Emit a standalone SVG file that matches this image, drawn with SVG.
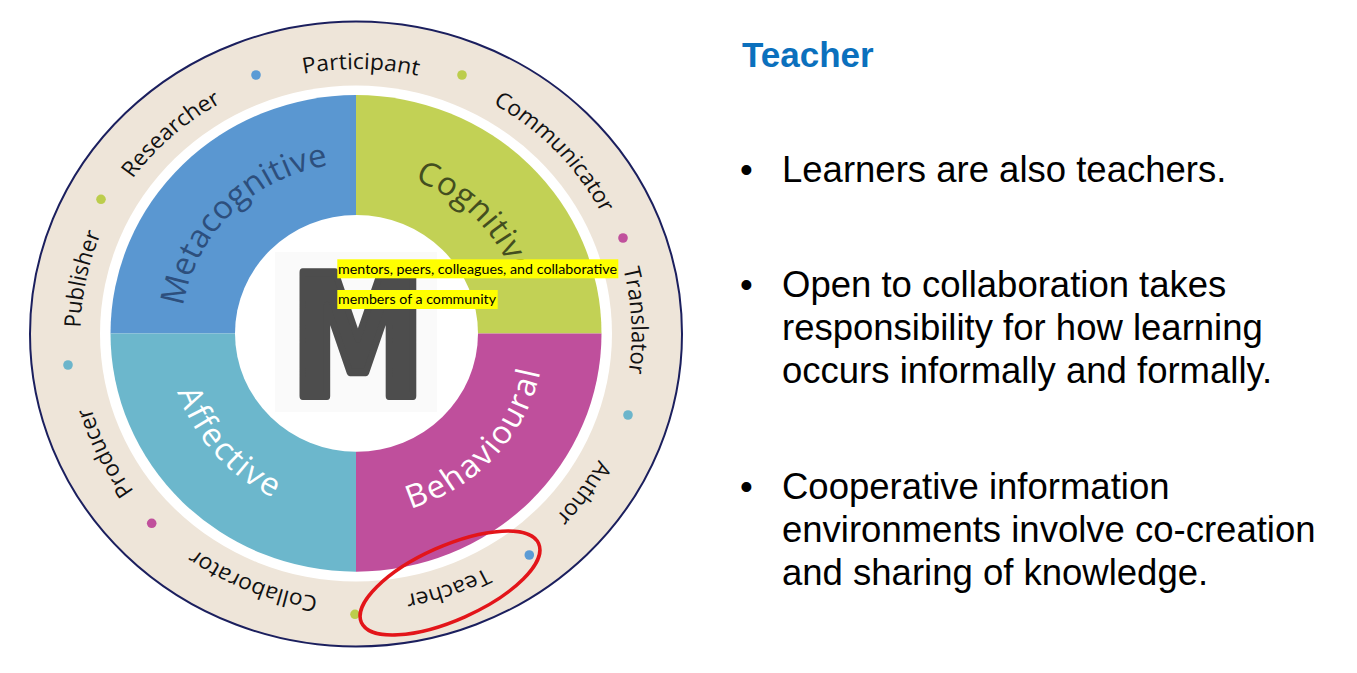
<svg xmlns="http://www.w3.org/2000/svg" xmlns:xlink="http://www.w3.org/1999/xlink" width="1357" height="673" viewBox="0 0 1357 673">
  <style>
    .ring { font-family: "Open Sans", "DejaVu Sans", sans-serif; font-size: 22px; fill: #111; }
    .quad { font-family: "Open Sans", "DejaVu Sans", sans-serif; font-size: 32px; }
    .hl { fill: #ffff00; }
    .hltxt { font-family: Lato, "Liberation Sans", sans-serif; font-size: 13px; fill: #000; }
    .title { font-family: "Liberation Sans", Arial, sans-serif; font-size: 35px; font-weight: bold; fill: #0b70bd; }
    .body { font-family: "Liberation Sans", Arial, sans-serif; font-size: 36.5px; fill: #000; }
    .dot { stroke: none; }
  </style>
  <defs>
    <path id="ringPath" d="M0,265 A265,265 0 1 1 0,-265 A265,265 0 1 1 0,265"/>
    <path id="metaPath" d="M-170,0 A170,170 0 0 1 0,-170"/>
    <path id="cogPath" d="M0,-163 A163,163 0 0 1 163,0"/>
    <path id="affPath" d="M-183,0 A183,183 0 0 0 0,183"/>
    <path id="behPath" d="M0,183 A183,183 0 0 0 183,0"/>
  </defs>
  <rect x="0" y="0" width="1357" height="673" fill="#ffffff"/>

  <g id="wheel">
    <ellipse cx="356" cy="334" rx="326" ry="312.5" fill="#eee5d9" stroke="#1b1f5e" stroke-width="2"/>
    <ellipse cx="356" cy="333.6" rx="256" ry="248" fill="#ffffff"/>
  </g>

  <g id="quadrants">
    <path id="q-meta" d="M356,333.4 L110.5,333.4 A245.5,238.3 0 0 1 356,95.1 Z" fill="#5a97d1"/>
    <path id="q-cog" d="M356,333.4 L356,95.1 A245.5,238.3 0 0 1 601.5,333.4 Z" fill="#c2d155"/>
    <path id="q-beh" d="M356,333.4 L601.5,333.4 A245.5,238.3 0 0 1 356,571.7 Z" fill="#bf4f9c"/>
    <path id="q-aff" d="M356,333.4 L356,571.7 A245.5,238.3 0 0 1 110.5,333.4 Z" fill="#6cb7cc"/>
    <g transform="translate(356,333.4) scale(1.03,1)">
      <text class="quad" fill="#2d4f7d"><textPath xlink:href="#metaPath" href="#metaPath" startOffset="50.1%" text-anchor="middle" letter-spacing="0.3">Metacognitive</textPath></text>
      <text class="quad" fill="#434e1f"><textPath xlink:href="#cogPath" href="#cogPath" startOffset="50.4%" text-anchor="middle" letter-spacing="0.5">Cognitive</textPath></text>
      <text class="quad" fill="#ffffff"><textPath xlink:href="#affPath" href="#affPath" startOffset="46.2%" text-anchor="middle" letter-spacing="2">Affective</textPath></text>
      <text class="quad" fill="#ffffff"><textPath xlink:href="#behPath" href="#behPath" startOffset="52.9%" text-anchor="middle" letter-spacing="1.7">Behavioural</textPath></text>
    </g>
  </g>

  <g id="center">
    <ellipse cx="356.5" cy="333.4" rx="121.5" ry="118.3" fill="#ffffff"/>
    <rect x="275" y="252" width="162" height="160" fill="#fafafa"/>
    <text x="358" y="396" text-anchor="middle" transform="translate(358,0) scale(0.8,1) translate(-358,0)" font-family="DejaVu Sans, sans-serif" font-weight="bold" font-size="170" fill="#4d4d4d" stroke="#4d4d4d" stroke-width="8" stroke-linejoin="round">M</text>
  </g>

  <g id="ring-labels" transform="translate(356,334) scale(1.04,1)">
    <text class="ring"><textPath xlink:href="#ringPath" href="#ringPath" startOffset="6.06%" text-anchor="middle">Collaborator</textPath></text>
    <text class="ring"><textPath xlink:href="#ringPath" href="#ringPath" startOffset="17.72%" text-anchor="middle">Producer</textPath></text>
    <text class="ring"><textPath xlink:href="#ringPath" href="#ringPath" startOffset="28.28%" text-anchor="middle">Publisher</textPath></text>
    <text class="ring"><textPath xlink:href="#ringPath" href="#ringPath" startOffset="38.42%" text-anchor="middle">Researcher</textPath></text>
    <text class="ring"><textPath xlink:href="#ringPath" href="#ringPath" startOffset="50.28%" text-anchor="middle">Participant</textPath></text>
    <text class="ring"><textPath xlink:href="#ringPath" href="#ringPath" startOffset="62.86%" text-anchor="middle">Communicator</textPath></text>
    <text class="ring"><textPath xlink:href="#ringPath" href="#ringPath" startOffset="74.2%" text-anchor="middle">Translator</textPath></text>
    <text class="ring"><textPath xlink:href="#ringPath" href="#ringPath" startOffset="85%" text-anchor="middle">Author</textPath></text>
    <text class="ring"><textPath xlink:href="#ringPath" href="#ringPath" startOffset="94.67%" text-anchor="middle">Teacher</textPath></text>
  </g>

  <g id="ring-dots">
    <circle class="dot" cx="256" cy="75" r="4.8" fill="#5b9bd5"/>
    <circle class="dot" cx="462" cy="75" r="4.8" fill="#bccd4c"/>
    <circle class="dot" cx="623" cy="238" r="4.8" fill="#c0509c"/>
    <circle class="dot" cx="628" cy="415" r="4.8" fill="#6cb5cb"/>
    <circle class="dot" cx="529.3" cy="555" r="4.8" fill="#5b9bd5"/>
    <circle class="dot" cx="355" cy="614.3" r="4.8" fill="#bccd4c"/>
    <circle class="dot" cx="151.7" cy="523.3" r="4.8" fill="#c0509c"/>
    <circle class="dot" cx="68" cy="365" r="4.8" fill="#6cb5cb"/>
    <circle class="dot" cx="101" cy="199.3" r="4.8" fill="#bccd4c"/>
  </g>

  <g id="highlight-note">
    <rect class="hl" x="337.3" y="259.3" width="281" height="19"/>
    <rect class="hl" x="337.3" y="290" width="160.4" height="19"/>
    <text class="hltxt" x="338" y="274" textLength="279" lengthAdjust="spacingAndGlyphs">mentors, peers, colleagues, and collaborative</text>
    <text class="hltxt" x="338" y="304" textLength="158" lengthAdjust="spacingAndGlyphs">members of a community</text>
  </g>

  <g id="teacher-mark">
    <ellipse cx="450" cy="583" rx="97" ry="37" transform="rotate(-24 450 583)" fill="none" stroke="#e3151a" stroke-width="3.5"/>
  </g>

  <g id="text-panel">
    <text class="title" x="742" y="67">Teacher</text>
    <text class="body" x="740" y="182">•</text>
    <text class="body" x="782" y="182">Learners are also teachers.</text>
    <text class="body" x="740" y="296.5">•</text>
    <text class="body" x="782" y="296.5">Open to collaboration takes</text>
    <text class="body" x="782" y="339.5">responsibility for how learning</text>
    <text class="body" x="782" y="382.5">occurs informally and formally.</text>
    <text class="body" x="740" y="499">•</text>
    <text class="body" x="782" y="499">Cooperative information</text>
    <text class="body" x="782" y="542">environments involve co-creation</text>
    <text class="body" x="782" y="585">and sharing of knowledge.</text>
  </g>
</svg>
